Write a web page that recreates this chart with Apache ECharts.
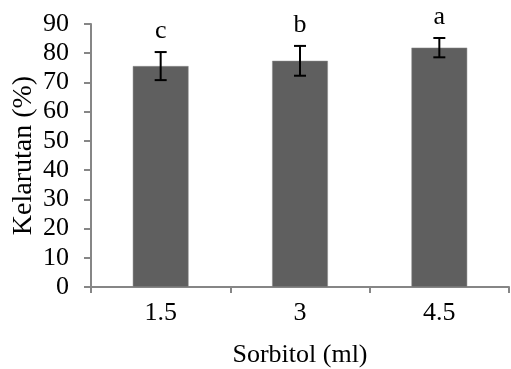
<!DOCTYPE html>
<html>
<head>
<meta charset="utf-8">
<script src="https://cdn.jsdelivr.net/npm/echarts@6/dist/echarts.min.js"></script>
<style>
  html, body { margin: 0; padding: 0; background: #fff; }
  #chart { width: 511px; height: 369px; }
</style>
</head>
<body>
<div id="chart"></div>
<script>
// data
const categories = ['1.5', '3', '4.5'];
const means = [75.6, 77.4, 81.9];
const errors = [4.8, 5.1, 3.3];
const letters = ['c', 'b', 'a'];

const serif = 'Liberation Serif';
const axisGray = '#868686';

const chart = echarts.init(document.getElementById('chart'));

const errData = categories.map((c, i) => [i, means[i] - errors[i], means[i] + errors[i]]);

const option = {
  animation: false,
  grid: { left: 91, right: 2, top: 24, bottom: 82, outerBoundsMode: 'none', containLabel: false },
  xAxis: {
    type: 'category',
    data: categories,
    name: 'Sorbitol (ml)',
    nameLocation: 'middle',
    nameGap: 55,
    nameMoveOverlap: false,
    nameTextStyle: { fontFamily: serif, fontSize: 26, color: '#000' },
    axisLine: { lineStyle: { color: axisGray, width: 2 } },
    axisTick: { show: true, length: 6, lineStyle: { color: axisGray, width: 2 } },
    axisLabel: { fontFamily: serif, fontSize: 26, color: '#000', margin: 13 }
  },
  yAxis: {
    type: 'value',
    min: 0,
    max: 90,
    interval: 10,
    name: 'Kelarutan (%)',
    nameLocation: 'middle',
    nameGap: 53,
    nameMoveOverlap: false,
    nameTextStyle: { fontFamily: serif, fontSize: 28, color: '#000' },
    axisLine: { show: true, lineStyle: { color: axisGray, width: 2 } },
    axisTick: { show: true, length: 7, lineStyle: { color: axisGray, width: 2 } },
    axisLabel: { fontFamily: serif, fontSize: 26, color: '#000', margin: 22 },
    splitLine: { show: false }
  },
  series: [
    {
      type: 'bar',
      data: means,
      barWidth: '40%',
      itemStyle: { color: '#5f5f5f', borderColor: '#8a8a8a', borderWidth: 0.5 }
    },
    {
      type: 'custom',
      data: errData,
      z: 5,
      renderItem: function (params, api) {
        const x = api.coord([api.value(0), 0])[0];
        const lo = api.coord([api.value(0), api.value(1)])[1];
        const hi = api.coord([api.value(0), api.value(2)])[1];
        const half = 6;
        const style = { stroke: '#000', lineWidth: 2 };
        return {
          type: 'group',
          children: [
            { type: 'line', shape: { x1: x, y1: lo, x2: x, y2: hi }, style: style },
            { type: 'line', shape: { x1: x - half, y1: lo, x2: x + half, y2: lo }, style: style },
            { type: 'line', shape: { x1: x - half, y1: hi, x2: x + half, y2: hi }, style: style },
            {
              type: 'text',
              style: {
                text: letters[params.dataIndex],
                x: x,
                y: hi - 8,
                align: 'center',
                verticalAlign: 'bottom',
                fontFamily: serif,
                fontSize: 26,
                fill: '#000'
              }
            }
          ]
        };
      }
    }
  ]
};

chart.setOption(option);
</script>
</body>
</html>
